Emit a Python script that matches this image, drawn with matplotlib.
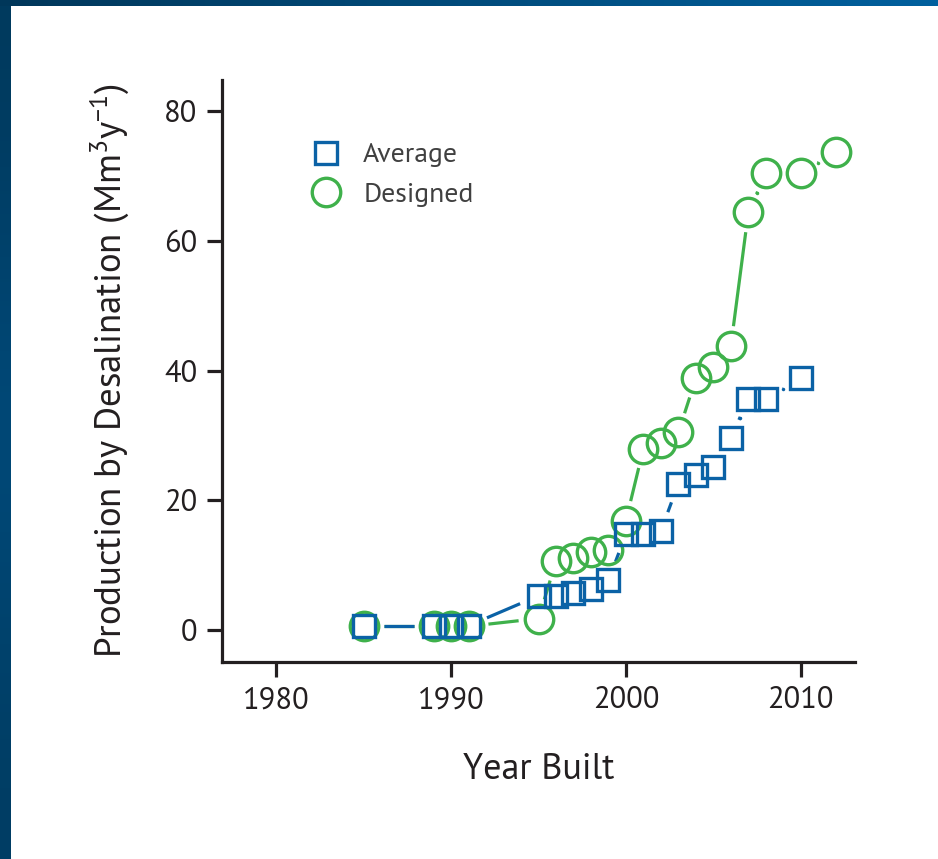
import numpy as np
import matplotlib.pyplot as plt
from matplotlib.lines import Line2D
from matplotlib.colors import LinearSegmentedColormap

plt.rcParams['font.family'] = ['PT Sans', 'Open Sans', 'DejaVu Sans']
plt.rcParams['mathtext.fontset'] = 'custom'
plt.rcParams['mathtext.rm'] = 'PT Sans'
plt.rcParams['mathtext.it'] = 'PT Sans'

# average production by year built
avg_years = [1985, 1989, 1990, 1991, 1995, 1996, 1997, 1998, 1999, 2000,
             2001, 2002, 2003, 2004, 2005, 2006, 2007, 2008, 2010]
avg_vals = [0.6, 0.6, 0.6, 0.7, 5.3, 5.3, 5.8, 6.3, 7.7, 14.8,
            14.8, 15.3, 22.6, 23.9, 25.2, 29.6, 35.7, 35.7, 38.8]

# designed capacity by year built
des_years = [1985, 1989, 1990, 1991, 1995, 1996, 1997, 1998, 1999, 2000,
             2001, 2002, 2003, 2004, 2005, 2006, 2007, 2008, 2010, 2012]
des_vals = [0.6, 0.6, 0.6, 0.6, 1.8, 10.6, 11.2, 12.1, 12.3, 16.9,
            28.0, 28.8, 30.5, 38.8, 40.6, 43.8, 64.4, 70.4, 70.4, 73.7]

blue = '#0b62a6'
green = '#3fb14b'
ink = '#231f20'

fig = plt.figure(figsize=(9.38, 8.59), dpi=100)
ax = fig.add_axes([222/938, 1-662/859, (855-222)/938, (662-80)/859])

ax.set_xlim(1976.9, 2013.1)
ax.set_ylim(-4.9, 84.8)
ax.set_xticks([1980, 1990, 2000, 2010])
ax.set_yticks([0, 20, 40, 60, 80])

for s in ['top', 'right']:
    ax.spines[s].set_visible(False)
for s in ['left', 'bottom']:
    ax.spines[s].set_linewidth(2.3)
    ax.spines[s].set_color(ink)
ax.tick_params(direction='out', length=10.5, width=2.3, color=ink,
               labelsize=22, labelcolor=ink, pad=7)


def gapped(x, y, color, gap=20):
    # R type="b" style: segments stop short of each marker
    pts = ax.transData.transform(np.column_stack([x, y]))
    inv = ax.transData.inverted()
    for p0, p1 in zip(pts[:-1], pts[1:]):
        d = p1 - p0
        f = np.hypot(*d)
        if f > 2 * gap:
            u = d / f
            a = inv.transform(p0 + u * gap)
            b = inv.transform(p1 - u * gap)
            ax.plot([a[0], b[0]], [a[1], b[1]], color=color, lw=2.3,
                    solid_capstyle='butt', zorder=2)
        if 2 * gap < f < 2 * gap + 8:
            m = inv.transform((p0 + p1) / 2)
            ax.plot([m[0]], [m[1]], 'o', ms=2.5, color=color, mew=0, zorder=2)


gapped(des_years, des_vals, green)
ax.plot(des_years, des_vals, 'o', ms=20.5, mfc='none', mec=green, mew=2.4,
        ls='none', zorder=3)
gapped(avg_years, avg_vals, blue)
ax.plot(avg_years, avg_vals, 's', ms=15.3, mfc='none', mec=blue, mew=2.4,
        ls='none', zorder=4)

ax.set_xlabel('Year Built', fontsize=26, color=ink, labelpad=28)
ax.set_ylabel('Production by Desalination (Mm$^{3}$y$^{-1}$)', fontsize=26.5,
              color=ink, labelpad=24)

handles = [Line2D([], [], marker='s', ls='none', ms=15.3, mfc='none', mec=blue, mew=2.4),
           Line2D([], [], marker='o', ls='none', ms=20.5, mfc='none', mec=green, mew=2.4)]
leg = ax.legend(handles, ['Average', 'Designed'], loc='upper left',
                bbox_to_anchor=(298/938, 1-143/859), bbox_transform=fig.transFigure,
                frameon=False, fontsize=20, handletextpad=0.35, labelspacing=0.55,
                borderaxespad=0, borderpad=0)
for t in leg.get_texts():
    t.set_color('#404040')

# dark blue frame strips on the left and top edges
left = fig.add_axes([0, 0, 10/938, 1])
grad_v = np.array([0.0, 0.5, 1.0, 0.6, 0.2]).reshape(-1, 1)
cm_v = LinearSegmentedColormap.from_list('v', ['#003a5e', '#004a7a'])
left.imshow(grad_v, aspect='auto', cmap=cm_v, interpolation='bicubic')
left.axis('off')
top = fig.add_axes([0, 1-6/859, 1, 6/859])
cm_h = LinearSegmentedColormap.from_list('h', ['#00375a', '#00609e'])
top.imshow(np.linspace(0, 1, 256).reshape(1, -1), aspect='auto', cmap=cm_h)
top.axis('off')

fig.savefig('out.png', dpi=100)
